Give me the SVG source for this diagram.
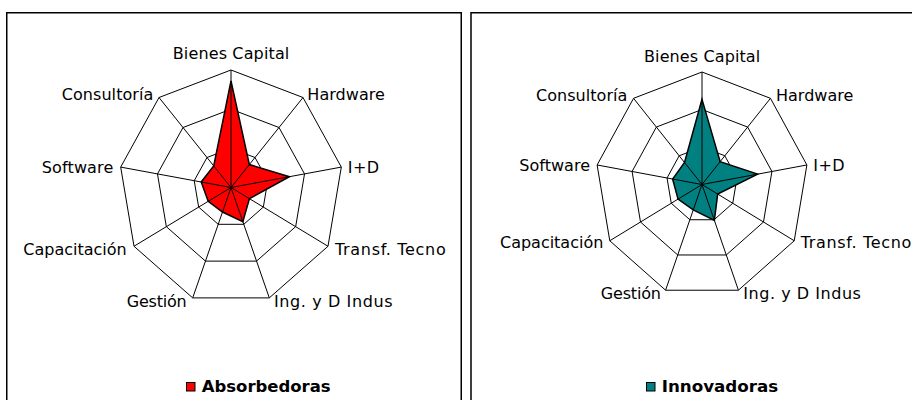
<svg xmlns="http://www.w3.org/2000/svg" width="912" height="400" viewBox="0 0 912 400">
<style>
.frame{fill:#fff;stroke:#000;stroke-width:1.5}
.grid{fill:none;stroke:#000;stroke-width:1}
.spoke{stroke:#000;stroke-width:1;fill:none}
.data{stroke:#000;stroke-width:1.5;stroke-linejoin:miter}
.lbl{font-family:"DejaVu Sans","Verdana",sans-serif;font-size:16px;fill:#000}
.leg{font-family:"DejaVu Sans","Verdana",sans-serif;font-size:16px;font-weight:bold;fill:#000}
.end{text-anchor:end}
.mid{text-anchor:middle}
</style>
<rect width="912" height="400" fill="#fff"/>
<rect class="frame" x="6.75" y="12.75" width="454.5" height="420"/>
<rect class="frame" x="471" y="12.75" width="460" height="420"/>

<g id="chart-absorbedoras">
  <g id="grid-left">
    <polygon class="grid" points="231,70 303,97.5 341.3,167.1 328,246.25 269.3,297.9 192.7,297.9 134,246.25 120.7,167.1 159,97.5"/>
    <polygon class="grid" points="231,109.17 279,127.5 304.53,173.9 295.67,226.67 256.54,261.11 205.46,261.11 166.33,226.67 157.47,173.9 183,127.5"/>
    <polygon class="grid" points="231,148.33 255,157.5 267.77,180.7 263.33,207.08 243.77,224.3 218.23,224.3 198.67,207.08 194.23,180.7 207,157.5"/>
  </g>
  <polygon class="data" fill="#FF0000" points="231,81 249.36,164.55 289.46,176.69 249.43,198.66 242.87,221.72 222.5,212.01 208.2,201.31 201.22,181.99 213.72,165.9"/>
  <path class="spoke" d="M231,187.5L231,70M231,187.5L303,97.5M231,187.5L341.3,167.1M231,187.5L328,246.25M231,187.5L269.3,297.9M231,187.5L192.7,297.9M231,187.5L134,246.25M231,187.5L120.7,167.1M231,187.5L159,97.5"/>
  <g id="labels-left">
    <text class="lbl" x="172.7" y="59" textLength="116.6" lengthAdjust="spacing">Bienes Capital</text>
    <text class="lbl" x="307.3" y="100" textLength="77.6" lengthAdjust="spacing">Hardware</text>
    <text class="lbl" x="347.7" y="172.7" textLength="31.5" lengthAdjust="spacing">I+D</text>
    <text class="lbl" x="335" y="255" textLength="110.7" lengthAdjust="spacing">Transf. Tecno</text>
    <text class="lbl" x="274" y="307.3" textLength="118.5" lengthAdjust="spacing">Ing. y D Indus</text>
    <text class="lbl" x="126.7" y="307.3" textLength="60" lengthAdjust="spacing">Gestión</text>
    <text class="lbl" x="23.3" y="255" textLength="103.4" lengthAdjust="spacing">Capacitación</text>
    <text class="lbl" x="41.7" y="172.7" textLength="71.6" lengthAdjust="spacing">Software</text>
    <text class="lbl" x="61.7" y="100" textLength="91.6" lengthAdjust="spacing">Consultoría</text>
  </g>
  <g id="legend-left">
    <rect x="186.5" y="382.5" width="8.5" height="8.5" fill="#FF0000" stroke="#000" stroke-width="1"/>
    <text class="leg" x="201.7" y="392.3" textLength="129" lengthAdjust="spacingAndGlyphs">Absorbedoras</text>
  </g>
</g>

<g id="chart-innovadoras">
  <g id="grid-right">
    <polygon class="grid" points="702,72 770.46,98.32 806.88,164.97 794.23,240.75 738.42,290.22 665.58,290.22 609.77,240.75 597.12,164.97 633.54,98.32"/>
    <polygon class="grid" points="702,109.5 747.64,127.05 771.92,171.48 763.49,222 726.28,254.98 677.72,254.98 640.51,222 632.08,171.48 656.36,127.05"/>
    <polygon class="grid" points="702,147 724.82,155.77 736.96,177.99 732.74,203.25 714.14,219.74 689.86,219.74 671.26,203.25 667.04,177.99 679.18,155.77"/>
  </g>
  <polygon class="data" fill="#008080" points="702,99.34 720.14,161.66 757.59,174.15 717.68,194.06 714.38,220.44 693.26,209.87 678.02,199.13 672.63,179.03 684.54,162.52"/>
  <path class="spoke" d="M702,184.5L702,72M702,184.5L770.46,98.32M702,184.5L806.88,164.97M702,184.5L794.23,240.75M702,184.5L738.42,290.22M702,184.5L665.58,290.22M702,184.5L609.77,240.75M702,184.5L597.12,164.97M702,184.5L633.54,98.32"/>
  <g id="labels-right">
    <text class="lbl" x="644" y="61.7" textLength="116.2" lengthAdjust="spacing">Bienes Capital</text>
    <text class="lbl" x="776" y="100.7" textLength="77.3" lengthAdjust="spacing">Hardware</text>
    <text class="lbl" x="813.3" y="170.7" textLength="31.2" lengthAdjust="spacing">I+D</text>
    <text class="lbl" x="800.7" y="248.3" textLength="110.7" lengthAdjust="spacing">Transf. Tecno</text>
    <text class="lbl" x="743.3" y="299.3" textLength="117.6" lengthAdjust="spacing">Ing. y D Indus</text>
    <text class="lbl" x="600.7" y="299.3" textLength="60.3" lengthAdjust="spacing">Gestión</text>
    <text class="lbl" x="500" y="248.3" textLength="103.3" lengthAdjust="spacing">Capacitación</text>
    <text class="lbl" x="519.3" y="170.7" textLength="70.7" lengthAdjust="spacing">Software</text>
    <text class="lbl" x="536" y="100.7" textLength="91.3" lengthAdjust="spacing">Consultoría</text>
  </g>
  <g id="legend-right">
    <rect x="646.5" y="382.5" width="8.5" height="8.5" fill="#008080" stroke="#000" stroke-width="1"/>
    <text class="leg" x="661.7" y="392.3" textLength="116.6" lengthAdjust="spacingAndGlyphs">Innovadoras</text>
  </g>
</g>
</svg>
